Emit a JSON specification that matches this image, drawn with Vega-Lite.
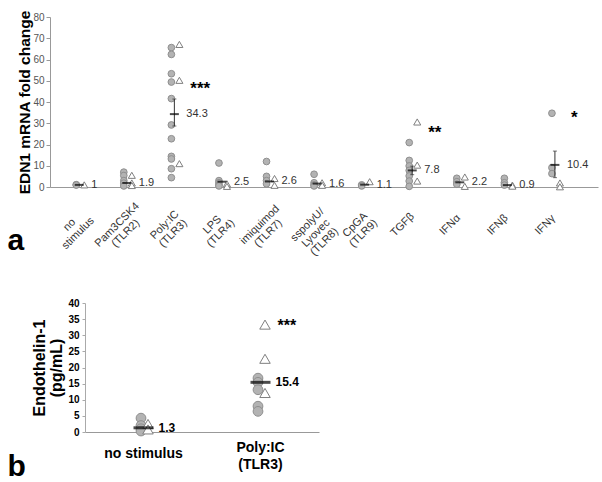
{
  "$schema": "https://vega.github.io/schema/vega-lite/v6.json",
  "padding": {"left": 7, "top": 9, "right": 0, "bottom": 0},
  "background": "#ffffff",
  "config": {"view": {"stroke": null}, "font": "Liberation Sans", "axis": {"grid": false}},
  "spacing": 38,
  "resolve": {"scale": {"xOffset": "independent"}},
  "datasets": {
    "topPts": [
      {"g": "no|stimulus", "t": "c", "v": 1.1}, {"g": "no|stimulus", "t": "c", "v": 0.9}, {"g": "no|stimulus", "t": "t", "v": 1.0},
      {"g": "Pam3CSK4|(TLR2)", "t": "c", "v": 7.0}, {"g": "Pam3CSK4|(TLR2)", "t": "c", "v": 5.4}, {"g": "Pam3CSK4|(TLR2)", "t": "c", "v": 3.0}, {"g": "Pam3CSK4|(TLR2)", "t": "c", "v": 1.8}, {"g": "Pam3CSK4|(TLR2)", "t": "c", "v": 0.5},
      {"g": "Pam3CSK4|(TLR2)", "t": "t", "v": 5.5}, {"g": "Pam3CSK4|(TLR2)", "t": "t", "v": 1.9}, {"g": "Pam3CSK4|(TLR2)", "t": "t", "v": 0.7},
      {"g": "Poly:IC|(TLR3)", "t": "c", "v": 65.6}, {"g": "Poly:IC|(TLR3)", "t": "c", "v": 62.4}, {"g": "Poly:IC|(TLR3)", "t": "c", "v": 53.3}, {"g": "Poly:IC|(TLR3)", "t": "c", "v": 49.4},
      {"g": "Poly:IC|(TLR3)", "t": "c", "v": 41.6}, {"g": "Poly:IC|(TLR3)", "t": "c", "v": 29.2}, {"g": "Poly:IC|(TLR3)", "t": "c", "v": 22.7}, {"g": "Poly:IC|(TLR3)", "t": "c", "v": 14.4},
      {"g": "Poly:IC|(TLR3)", "t": "c", "v": 13.2}, {"g": "Poly:IC|(TLR3)", "t": "c", "v": 8.6}, {"g": "Poly:IC|(TLR3)", "t": "c", "v": 4.4},
      {"g": "Poly:IC|(TLR3)", "t": "t", "v": 67.1}, {"g": "Poly:IC|(TLR3)", "t": "t", "v": 50.2}, {"g": "Poly:IC|(TLR3)", "t": "t", "v": 11.0},
      {"g": "LPS|(TLR4)", "t": "c", "v": 11.3}, {"g": "LPS|(TLR4)", "t": "c", "v": 3.0}, {"g": "LPS|(TLR4)", "t": "c", "v": 2.0}, {"g": "LPS|(TLR4)", "t": "c", "v": 1.0}, {"g": "LPS|(TLR4)", "t": "c", "v": 0.5},
      {"g": "LPS|(TLR4)", "t": "t", "v": 1.5}, {"g": "LPS|(TLR4)", "t": "t", "v": 0.3},
      {"g": "imiquimod|(TLR7)", "t": "c", "v": 12.0}, {"g": "imiquimod|(TLR7)", "t": "c", "v": 5.0}, {"g": "imiquimod|(TLR7)", "t": "c", "v": 3.0}, {"g": "imiquimod|(TLR7)", "t": "c", "v": 1.5},
      {"g": "imiquimod|(TLR7)", "t": "t", "v": 4.0}, {"g": "imiquimod|(TLR7)", "t": "t", "v": 0.8},
      {"g": "sspolyU/|Lyovec|(TLR8)", "t": "c", "v": 6.0}, {"g": "sspolyU/|Lyovec|(TLR8)", "t": "c", "v": 2.0}, {"g": "sspolyU/|Lyovec|(TLR8)", "t": "c", "v": 1.0}, {"g": "sspolyU/|Lyovec|(TLR8)", "t": "c", "v": 0.5},
      {"g": "sspolyU/|Lyovec|(TLR8)", "t": "t", "v": 2.0}, {"g": "sspolyU/|Lyovec|(TLR8)", "t": "t", "v": 0.8},
      {"g": "CpGA|(TLR9)", "t": "c", "v": 1.0}, {"g": "CpGA|(TLR9)", "t": "c", "v": 0.5}, {"g": "CpGA|(TLR9)", "t": "t", "v": 2.5},
      {"g": "TGFβ", "t": "c", "v": 20.9}, {"g": "TGFβ", "t": "c", "v": 12.5}, {"g": "TGFβ", "t": "c", "v": 9.9}, {"g": "TGFβ", "t": "c", "v": 7.8}, {"g": "TGFβ", "t": "c", "v": 5.2}, {"g": "TGFβ", "t": "c", "v": 2.8}, {"g": "TGFβ", "t": "c", "v": 0.3},
      {"g": "TGFβ", "t": "t", "v": 30.6}, {"g": "TGFβ", "t": "t", "v": 10.3}, {"g": "TGFβ", "t": "t", "v": 2.8},
      {"g": "IFNα", "t": "c", "v": 4.1}, {"g": "IFNα", "t": "c", "v": 2.5}, {"g": "IFNα", "t": "c", "v": 1.3}, {"g": "IFNα", "t": "t", "v": 4.7}, {"g": "IFNα", "t": "t", "v": 0.3},
      {"g": "IFNβ", "t": "c", "v": 4.1}, {"g": "IFNβ", "t": "c", "v": 2.0}, {"g": "IFNβ", "t": "c", "v": 0.9}, {"g": "IFNβ", "t": "t", "v": 0.9}, {"g": "IFNβ", "t": "t", "v": 0.4},
      {"g": "IFNγ", "t": "c", "v": 34.7}, {"g": "IFNγ", "t": "c", "v": 9.1}, {"g": "IFNγ", "t": "c", "v": 6.3}, {"g": "IFNγ", "t": "t", "v": 1.9}, {"g": "IFNγ", "t": "t", "v": 0.1}
    ],
    "topSum": [
      {"g": "no|stimulus", "m": 1.0, "lab": "1"},
      {"g": "Pam3CSK4|(TLR2)", "m": 1.9, "lab": "1.9"},
      {"g": "Poly:IC|(TLR3)", "m": 34.3, "lab": "34.3", "lo": 28.7, "hi": 41.4, "star": "***", "sy": 48.5},
      {"g": "LPS|(TLR4)", "m": 2.5, "lab": "2.5"},
      {"g": "imiquimod|(TLR7)", "m": 2.6, "lab": "2.6"},
      {"g": "sspolyU/|Lyovec|(TLR8)", "m": 1.6, "lab": "1.6"},
      {"g": "CpGA|(TLR9)", "m": 1.1, "lab": "1.1"},
      {"g": "TGFβ", "m": 7.8, "lab": "7.8", "lo": 5.8, "hi": 9.8, "star": "**", "sy": 27.8},
      {"g": "IFNα", "m": 2.2, "lab": "2.2"},
      {"g": "IFNβ", "m": 0.9, "lab": "0.9"},
      {"g": "IFNγ", "m": 10.4, "lab": "10.4", "lo": 4.4, "hi": 16.9, "star": "*", "sy": 34.8}
    ],
    "botPts": [
      {"g": "no stimulus", "t": "c", "v": 4.3}, {"g": "no stimulus", "t": "c", "v": 2.0}, {"g": "no stimulus", "t": "c", "v": 1.0}, {"g": "no stimulus", "t": "c", "v": 0.3},
      {"g": "no stimulus", "t": "t", "v": 2.5}, {"g": "no stimulus", "t": "t", "v": 0.8},
      {"g": "Poly:IC|(TLR3)", "t": "c", "v": 16.7}, {"g": "Poly:IC|(TLR3)", "t": "c", "v": 15.4}, {"g": "Poly:IC|(TLR3)", "t": "c", "v": 13.1}, {"g": "Poly:IC|(TLR3)", "t": "c", "v": 8.0}, {"g": "Poly:IC|(TLR3)", "t": "c", "v": 6.4},
      {"g": "Poly:IC|(TLR3)", "t": "t", "v": 33.3}, {"g": "Poly:IC|(TLR3)", "t": "t", "v": 22.7}, {"g": "Poly:IC|(TLR3)", "t": "t", "v": 12.1}
    ],
    "botSum": [
      {"g": "no stimulus", "m": 1.3, "lab": "1.3"},
      {"g": "Poly:IC|(TLR3)", "m": 15.4, "lab": "15.4", "star": "***", "sy": 34.3}
    ]
  },
  "vconcat": [
    {
      "width": 510,
      "height": 170,
      "encoding": {
        "x": {
          "field": "g", "type": "nominal",
          "scale": {"type": "band", "domain": ["no|stimulus", "Pam3CSK4|(TLR2)", "Poly:IC|(TLR3)", "LPS|(TLR4)", "imiquimod|(TLR7)", "sspolyU/|Lyovec|(TLR8)", "CpGA|(TLR9)", "TGFβ", "IFNα", "IFNβ", "IFNγ"], "range": [-35, 513], "paddingInner": 0, "paddingOuter": 0.26, "align": 0.22},
          "axis": {
            "title": "a", "titleFontSize": 30, "titleFontWeight": "bold", "titleColor": "#000000", "titleFont": "Liberation Sans",
            "titleX": -78, "titleY": 62, "titleAlign": "left", "titleBaseline": "alphabetic", "titleAngle": 0,
            "labelAngle": -45, "labelAlign": "center", "labelBaseline": "bottom", "labelPadding": 41, "labelOffset": -6,
            "labelExpr": "split(datum.label, '|')", "labelLineHeight": 12, "labelFontSize": 11, "labelColor": "#333333",
            "labelOverlap": false, "labelBound": false, "labelFlush": false,
            "ticks": false, "tickSize": 0, "domainColor": "#999999"
          }
        },
        "y": {"field": "v", "type": "quantitative", "scale": {"domain": [0, 80], "nice": false},
          "axis": {"title": "EDN1 mRNA fold change", "titleFontSize": 15.5, "titleFontWeight": "bold", "titleColor": "#000000", "titlePadding": 0, "offset": 35,
            "values": [0, 10, 20, 30, 40, 50, 60, 70, 80], "tickCount": 9, "labelOverlap": false, "labelFontSize": 10, "labelColor": "#555555", "labelPadding": 2,
            "tickSize": 4, "tickColor": "#999999", "domainColor": "#999999"}}
      },
      "layer": [
        {
          "data": {"name": "topPts"},
          "transform": [{"filter": "datum.t == 'c'"}],
          "mark": {"type": "point", "shape": "circle", "filled": true, "fill": "#b3b3b3", "stroke": "#8f8f8f", "strokeWidth": 1, "size": 45, "opacity": 1},
          "encoding": {
            "xOffset": {"field": "t", "type": "nominal", "scale": {"domain": ["c", "t"], "range": [20.8, 28.8], "paddingInner": 0, "paddingOuter": 0}}
          }
        },
        {
          "data": {"name": "topPts"},
          "transform": [{"filter": "datum.t == 't'"}],
          "mark": {"type": "point", "shape": "triangle-up", "filled": true, "fill": "#ffffff", "stroke": "#7f7f7f", "strokeWidth": 1, "size": 50, "opacity": 1},
          "encoding": {
            "xOffset": {"field": "t", "type": "nominal"}
          }
        },
        {
          "data": {"name": "topSum"},
          "transform": [{"filter": "isValid(datum.lo)"}],
          "mark": {"type": "rule", "color": "#333333", "strokeWidth": 1},
          "encoding": {
            "y": {"field": "lo", "type": "quantitative", "axis": {"title": "EDN1 mRNA fold change", "titleFontSize": 15.5, "titleFontWeight": "bold", "titleColor": "#000000", "titlePadding": 0, "offset": 35,
              "values": [0, 10, 20, 30, 40, 50, 60, 70, 80], "tickCount": 9, "labelOverlap": false, "labelFontSize": 10, "labelColor": "#555555", "labelPadding": 2,
              "tickSize": 4, "tickColor": "#999999", "domainColor": "#999999"}},
            "y2": {"field": "hi"}
          }
        },
        {
          "data": {"name": "topSum"},
          "transform": [{"filter": "isValid(datum.lo)"}],
          "mark": {"type": "tick", "orient": "horizontal", "size": 4, "thickness": 1, "color": "#333333"},
          "encoding": {"y": {"field": "hi", "type": "quantitative", "axis": {"title": "EDN1 mRNA fold change", "titleFontSize": 15.5, "titleFontWeight": "bold", "titleColor": "#000000", "titlePadding": 0, "offset": 35,
              "values": [0, 10, 20, 30, 40, 50, 60, 70, 80], "tickCount": 9, "labelOverlap": false, "labelFontSize": 10, "labelColor": "#555555", "labelPadding": 2,
              "tickSize": 4, "tickColor": "#999999", "domainColor": "#999999"}}}
        },
        {
          "data": {"name": "topSum"},
          "transform": [{"filter": "isValid(datum.lo)"}],
          "mark": {"type": "tick", "orient": "horizontal", "size": 4, "thickness": 1, "color": "#333333"},
          "encoding": {"y": {"field": "lo", "type": "quantitative", "axis": {"title": "EDN1 mRNA fold change", "titleFontSize": 15.5, "titleFontWeight": "bold", "titleColor": "#000000", "titlePadding": 0, "offset": 35,
              "values": [0, 10, 20, 30, 40, 50, 60, 70, 80], "tickCount": 9, "labelOverlap": false, "labelFontSize": 10, "labelColor": "#555555", "labelPadding": 2,
              "tickSize": 4, "tickColor": "#999999", "domainColor": "#999999"}}}
        },
        {
          "data": {"name": "topSum"},
          "mark": {"type": "tick", "orient": "horizontal", "size": 9, "thickness": 2, "color": "#000000"},
          "encoding": {"y": {"field": "m", "type": "quantitative", "axis": {"title": "EDN1 mRNA fold change", "titleFontSize": 15.5, "titleFontWeight": "bold", "titleColor": "#000000", "titlePadding": 0, "offset": 35,
              "values": [0, 10, 20, 30, 40, 50, 60, 70, 80], "tickCount": 9, "labelOverlap": false, "labelFontSize": 10, "labelColor": "#555555", "labelPadding": 2,
              "tickSize": 4, "tickColor": "#999999", "domainColor": "#999999"}}}
        },
        {
          "data": {"name": "topSum"},
          "mark": {"type": "text", "align": "left", "baseline": "middle", "dx": 12, "fontSize": 11, "color": "#333333", "font": "Liberation Sans"},
          "encoding": {"y": {"field": "m", "type": "quantitative", "axis": {"title": "EDN1 mRNA fold change", "titleFontSize": 15.5, "titleFontWeight": "bold", "titleColor": "#000000", "titlePadding": 0, "offset": 35,
              "values": [0, 10, 20, 30, 40, 50, 60, 70, 80], "tickCount": 9, "labelOverlap": false, "labelFontSize": 10, "labelColor": "#555555", "labelPadding": 2,
              "tickSize": 4, "tickColor": "#999999", "domainColor": "#999999"}}, "text": {"field": "lab"}}
        },
        {
          "data": {"name": "topSum"},
          "transform": [{"filter": "isValid(datum.star)"}],
          "mark": {"type": "text", "align": "left", "baseline": "middle", "dx": 16, "dy": 5, "fontSize": 17, "fontWeight": "bold", "color": "#000000", "font": "Liberation Sans"},
          "encoding": {"y": {"field": "sy", "type": "quantitative", "axis": {"title": "EDN1 mRNA fold change", "titleFontSize": 15.5, "titleFontWeight": "bold", "titleColor": "#000000", "titlePadding": 0, "offset": 35,
              "values": [0, 10, 20, 30, 40, 50, 60, 70, 80], "tickCount": 9, "labelOverlap": false, "labelFontSize": 10, "labelColor": "#555555", "labelPadding": 2,
              "tickSize": 4, "tickColor": "#999999", "domainColor": "#999999"}}, "text": {"field": "star"}}
        }
      ]
    },
    {
      "width": 228,
      "height": 129,
      "encoding": {
        "x": {
          "field": "g", "type": "nominal",
          "scale": {"type": "band", "domain": ["no stimulus", "Poly:IC|(TLR3)"], "range": [0, 234], "paddingInner": 0, "paddingOuter": 0},
          "axis": {
            "title": "b", "titleFontSize": 30, "titleFontWeight": "bold", "titleColor": "#000000", "titleFont": "Liberation Sans",
            "titleX": -78, "titleY": 43, "titleAlign": "left", "titleBaseline": "alphabetic", "titleAngle": 0,
            "labelAngle": 0, "labelAlign": "center", "labelBaseline": "top",
            "labelPadding": {"condition": {"test": "indexof(datum.value, '|') >= 0", "value": 8}, "value": 14},
            "labelExpr": "split(datum.label, '|')", "labelLineHeight": 17, "labelFontSize": 14, "labelFontWeight": "bold", "labelColor": "#000000",
            "labelOverlap": false, "labelBound": false, "labelFlush": false,
            "ticks": false, "tickSize": 0, "domainColor": "#999999"
          }
        },
        "y": {"field": "v", "type": "quantitative", "scale": {"domain": [0, 40], "nice": false},
          "axis": {"title": ["Endothelin-1", "(pg/mL)"], "titleFontSize": 16, "titleFontWeight": "bold", "titleColor": "#000000", "titlePadding": 3, "titleLineHeight": 17,
            "values": [0, 5, 10, 15, 20, 25, 30, 35, 40], "labelOverlap": false, "labelFontSize": 10, "labelFontWeight": "bold", "labelColor": "#000000", "labelPadding": 3,
            "tickSize": 3, "tickColor": "#aaaaaa", "domainColor": "#aaaaaa"}}
      },
      "layer": [
        {
          "data": {"name": "botPts"},
          "transform": [{"filter": "datum.t == 'c'"}],
          "mark": {"type": "point", "shape": "circle", "filled": true, "fill": "#b3b3b3", "stroke": "#8f8f8f", "strokeWidth": 1, "size": 95, "opacity": 1},
          "encoding": {
            "xOffset": {"field": "t", "type": "nominal", "scale": {"domain": ["c", "t"], "range": [56, 63], "paddingInner": 0, "paddingOuter": 0}}
          }
        },
        {
          "data": {"name": "botPts"},
          "transform": [{"filter": "datum.t == 't'"}],
          "mark": {"type": "point", "shape": "triangle-up", "filled": true, "fill": "#ffffff", "stroke": "#7f7f7f", "strokeWidth": 1, "size": 110, "opacity": 1},
          "encoding": {
            "xOffset": {"field": "t", "type": "nominal"}
          }
        },
        {
          "data": {"name": "botSum"},
          "mark": {"type": "tick", "orient": "horizontal", "size": 20, "thickness": 3, "color": "#000000"},
          "encoding": {"y": {"field": "m", "type": "quantitative"}}
        },
        {
          "data": {"name": "botSum"},
          "mark": {"type": "text", "align": "left", "baseline": "middle", "dx": 15, "fontSize": 12, "fontWeight": "bold", "color": "#000000", "font": "Liberation Sans"},
          "encoding": {"y": {"field": "m", "type": "quantitative"}, "text": {"field": "lab"}}
        },
        {
          "data": {"name": "botSum"},
          "transform": [{"filter": "isValid(datum.star)"}],
          "mark": {"type": "text", "align": "left", "baseline": "middle", "dx": 17, "dy": 5, "fontSize": 16, "fontWeight": "bold", "color": "#000000", "font": "Liberation Sans"},
          "encoding": {"y": {"field": "sy", "type": "quantitative"}, "text": {"field": "star"}}
        }
      ]
    }
  ]
}
